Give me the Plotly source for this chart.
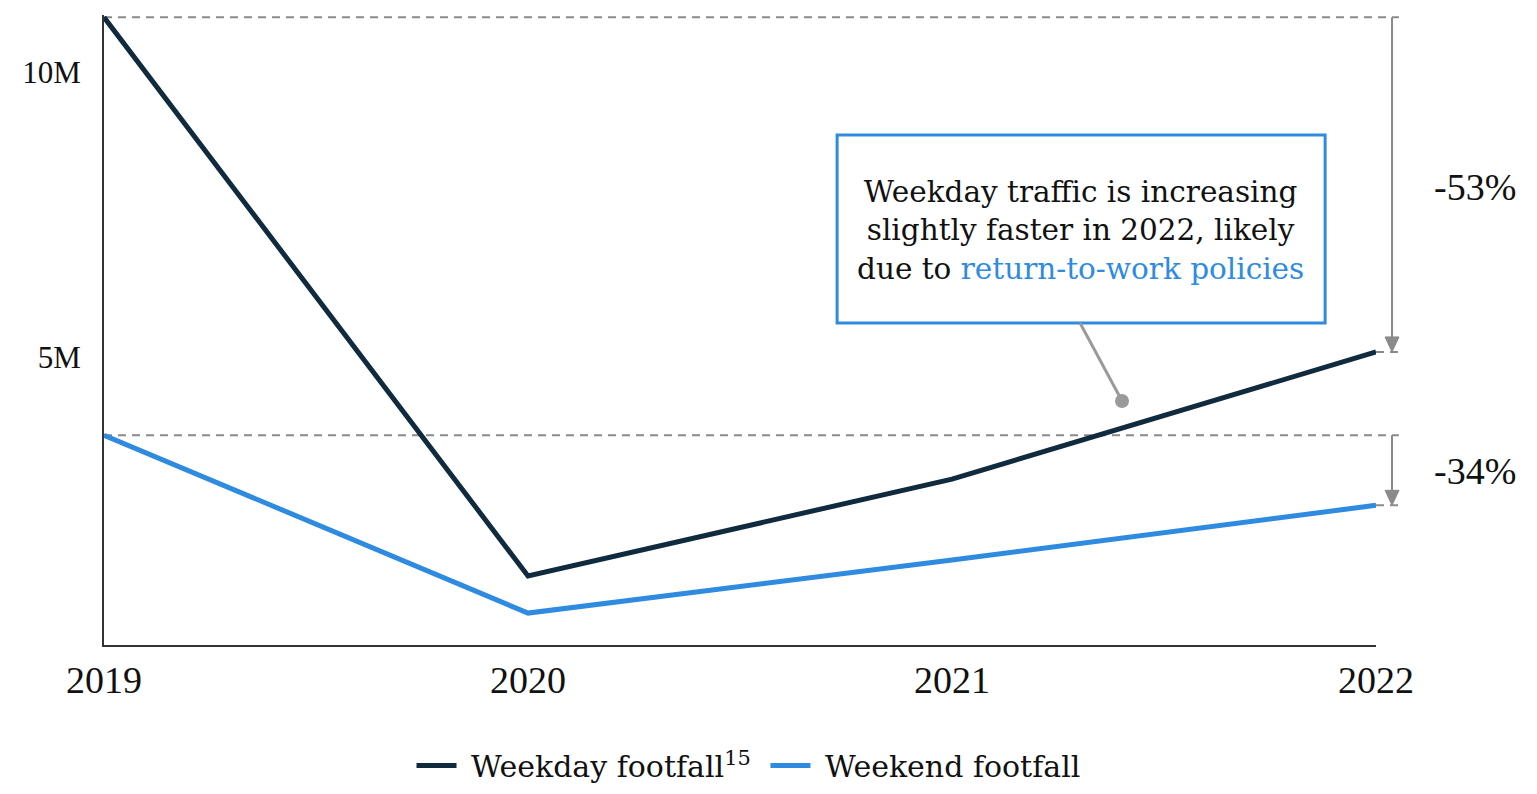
import plotly.graph_objects as go

years = [2019, 2020, 2021, 2022]
weekday = [10.96e6, 1.16e6, 2.86e6, 5.09e6]
weekend = [3.63e6, 0.51e6, 1.44e6, 2.40e6]
pct_labels = ["-53%", "-34%"]
y_tickvals = [5e6, 10e6]
y_ticktext = ["5M", "10M"]
x_ticktext = ["2019", "2020", "2021", "2022"]
series_names = ["\u00a0Weekday footfall<sup>15</sup>\u00a0", "\u00a0Weekend footfall"]
callout_text = ("Weekday traffic is increasing<br>slightly faster in 2022, likely<br>"
                "due to <span style='color:#2E8BE0'>return-to-work policies</span>")

NAVY = "#102A3E"
BLUE = "#2E8BE0"
GRAY = "#8a8a8a"
TICKFONT = "Liberation Serif"
TEXTFONT = "DejaVu Serif"

Y_RANGE = [-0.05e6, 11.0e6]
PX_PER_UNIT = 630 / (Y_RANGE[1] - Y_RANGE[0])

fig = go.Figure()
fig.add_trace(go.Scatter(x=years, y=weekday, mode="lines", name=series_names[0],
                         line=dict(color=NAVY, width=5), hoverinfo="skip"))
fig.add_trace(go.Scatter(x=years, y=weekend, mode="lines", name=series_names[1],
                         line=dict(color=BLUE, width=5), hoverinfo="skip"))

X_DASH_END = 1.018   # paper x where guide lines end
X_ARROW = 1.0126     # paper x of the vertical arrows
X_PCT = 1.0778       # paper x of the percentage labels
HW = 7 / 1272        # arrowhead half-width in paper units
HEAD = 15            # arrowhead length (px)

pairs = [(weekday[0], weekday[-1]), (weekend[0], weekend[-1])]
shapes = []
for start, end in pairs:
    shapes.append(dict(type="line", xref="paper", yref="y", x0=0, x1=X_DASH_END, y0=start, y1=start,
                       line=dict(color=GRAY, width=2, dash="8px,6px"), layer="below"))
    shapes.append(dict(type="line", xref="paper", yref="y", x0=1.0, x1=X_DASH_END, y0=end, y1=end,
                       line=dict(color=GRAY, width=2, dash="8px,6px"), layer="below"))
    head_top = end + HEAD / PX_PER_UNIT
    shapes.append(dict(type="line", xref="paper", yref="y", x0=X_ARROW, x1=X_ARROW,
                       y0=start, y1=head_top, line=dict(color=GRAY, width=2)))
    shapes.append(dict(type="path", xref="paper", yref="y",
                       path=f"M {X_ARROW - HW},{head_top} L {X_ARROW + HW},{head_top} L {X_ARROW},{end} Z",
                       fillcolor=GRAY, line=dict(color=GRAY, width=1)))

# callout box
shapes.append(dict(type="rect", xref="x", yref="y", x0=2020.729, x1=2021.880, y0=5.597e6, y1=8.895e6,
                   line=dict(color=BLUE, width=3), fillcolor="white", layer="above"))
# pointer
shapes.append(dict(type="line", xref="x", yref="y", x0=2021.302, y0=5.597e6, x1=2021.401, y1=4.229e6,
                   line=dict(color="#9a9a9a", width=3)))

fig.add_trace(go.Scatter(x=[2021.401], y=[4.229e6], mode="markers", showlegend=False,
                         marker=dict(color="#9a9a9a", size=14), hoverinfo="skip", cliponaxis=False))

annotations = [
    dict(x=2021.304, y=7.225e6, xref="x", yref="y", text=callout_text, showarrow=False,
         font=dict(family=TEXTFONT, size=29.5, color="#111"), align="center"),
]
pct_y = [7.99e6, 3.0e6]
for i in range(len(pairs)):
    annotations.append(dict(x=X_PCT, y=pct_y[i], xref="paper", yref="y", text=pct_labels[i],
                            xanchor="center", yanchor="middle", showarrow=False,
                            font=dict(family=TICKFONT, size=38, color="#111")))

fig.update_layout(
    width=1537, height=794,
    margin=dict(l=104, r=161, t=15, b=149),
    paper_bgcolor="white", plot_bgcolor="white",
    shapes=shapes, annotations=annotations,
    showlegend=True,
    legend=dict(orientation="h", x=0.487, xanchor="center", y=0.036, yanchor="middle",
                xref="container", yref="container",
                font=dict(family=TEXTFONT, size=30, color="#111"), itemwidth=40),
    xaxis=dict(range=[2019, 2022], tickvals=years, ticktext=x_ticktext, showgrid=False,
               zeroline=False, showline=True, linecolor="#333", linewidth=2, ticks="",
               tickfont=dict(family=TICKFONT, size=38, color="#111"), ticklabelstandoff=0),
    yaxis=dict(range=Y_RANGE, tickvals=y_tickvals, ticktext=y_ticktext, showgrid=False,
               zeroline=False, showline=True, linecolor="#333", linewidth=2, ticks="",
               tickfont=dict(family=TICKFONT, size=31, color="#111"), ticklabelstandoff=15),
)

fig.write_html("out.html", config={"displayModeBar": False},
               post_script="document.body.style.margin='0';")
